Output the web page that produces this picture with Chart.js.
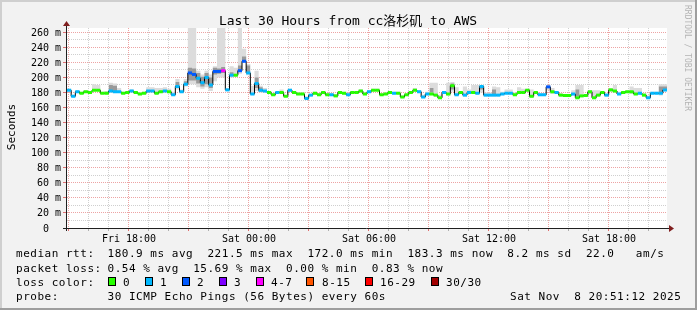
<!DOCTYPE html>
<html><head><meta charset="utf-8">
<script src="https://cdn.jsdelivr.net/npm/chart.js@4"></script>
<style>html,body{margin:0;padding:0;background:#f2f2f2}canvas{display:block}</style>
</head><body>
<canvas id="c" width="697" height="310"></canvas>
<script>
// time axis: hours relative to Fri 18:00; consolidated steps of 12.5 minutes
const startHour = -3.065;
const stepHours = 30 / 144;
const endHour = startHour + 30;

const median = [183,175,181,179,181,180,183,183,179,179,
 182,181,181,179,180,182,180,178,179,182,
 182,179,181,182,181,177,188,181,191,206,
 204,199,193,200,190,208,208,209,183.5,203,
 203,209,221.5,206,178,192,183,182,180,177,
 180,180,175,183,180,178,178,172,176.5,179,
 177,180,177,177,175.5,180,179,177,180,180,
 182,178,181,183,183,177,178,180,179,179,
 174,177,180,183,181,174,178,178,176.5,173,
 180,178,189,177,180,176.5,180,180,179,188,
 176.5,176.5,176.5,176.5,178,179,179,177,180,180,
 183,175,180,177,177,187.5,181,180,176.5,176,
 176,178,173,175.5,176,181,173,176.5,180,176.5,
 183.5,182,178,180,181,181,178,179,176.5,173,
 179,179,179,183.3];

const loss = [1,1,1,0,0,0,0,0,0,0,
 1,1,1,0,0,1,0,0,0,1,
 1,0,0,1,0,1,1,1,1,2,
 2,1,1,1,1,2,2,4,1,1,
 0,2,2,1,1,1,1,1,0,0,
 1,0,0,1,0,0,0,1,1,0,
 0,0,0,1,0,0,0,1,0,0,
 0,0,1,0,0,0,0,0,1,0,
 0,0,0,0,1,1,1,0,0,0,
 1,0,0,1,0,1,1,0,1,1,
 1,1,1,1,1,1,1,0,0,0,
 0,0,0,1,1,2,0,1,0,0,
 0,1,0,0,0,0,0,0,0,1,
 0,0,1,0,0,0,0,1,0,1,
 1,1,1,1];

const smokeHi = [185,177,183,181,183,182,191,190,181,182,
 193,192,186,181,182,184,182,180,181,187,
 187,186,186,187,185,181,198,184,198,265.7,
 265.7,209,204,209,204,215,265.7,265.7,186,215,
 213,265.7,238,218,189,209,189,186,182,179,
 182,184,177,185,182,180,180,175,178,181,
 179,182,179,179,178,182,181,179,182,182,
 184,180,183,185,185,179,180,182,181,181,
 176,179,182,186,183,177,181,193,193,177,
 182,193,194,187,182,188,184,190,190,190,
 180,180,188,187,181,184,184,180,187,185,
 185,184,182,179,179,190,186,182,179,178,
 178,183,190,190,178,183,183,183,182,179,
 186,190,181,182,183,188,186,186,179,176,
 181,181,191,191];

const smokeLo = [181,174,180,178,180,179,182,182,178,178,
 180,180,180,178,179,181,179,177,178,181,
 181,178,180,181,180,176,184,180,188,191,
 191,187,185,187,182,195,200,200,182,200,
 201,205,220,203,177,182,180,180,179,176,
 179,179,174,181,179,177,177,171,175,178,
 176,179,176,176,174,179,178,176,179,179,
 181,177,180,182,182,176,177,179,178,178,
 173,176,179,182,180,173,177,177,175,172,
 179,176,181,176,179,175,179,179,178,180,
 175,175,175,175,177,178,178,176,179,179,
 182,173,179,176,176,183,178,179,175,175,
 175,176,172,174,175,178,172,175,179,175,
 181,180,177,179,180,178,177,177,175,172,
 178,178,176,182];

const darkSteps = [10,11,26,28,29,30,31,32,33,34,35,36,37,39,41,42,43,45,46,87,92,99,102,122,142,143];
const darkHi    = [190,189,194,195,213,212,206,201,206,200,213,212,214,207,216,228,216,200,187,186,192,189,184,184,188,188];
const darkLo    = [183,182,186,190,196,196,192,188,191,186,204,205,206,203,208,222,206,186,181,180,184,184,178,175,180,182];

const xTickHours = [0,6,12,18,24];
const xTickLabels = ['Fri 18:00','Sat 00:00','Sat 06:00','Sat 12:00','Sat 18:00'];
const yTickValues = [0,20,40,60,80,100,120,140,160,180,200,220,240,260];
const yTickLabels = ['0','20 m','40 m','60 m','80 m','100 m','120 m','140 m','160 m','180 m','200 m','220 m','240 m','260 m'];

const lossLegendLabels = ['0','1','2','3','4-7','8-15','16-29','30/30'];
const lossLegendColors = ['#26ff00','#00b8ff','#0059ff','#7e00ff','#ff00ff','#ff5500','#ff0000','#a10000'];
const lossColorOf = l => l===0?'#26ff00':l===1?'#00b8ff':l===2?'#0059ff':l===3?'#7e00ff':l<=7?'#ff00ff':l<=15?'#ff5500':l<=29?'#ff0000':'#a10000';

const titleText = 'Last 30 Hours from cc洛杉矶 to AWS';
const legendRows = [
  ['median rtt:', '180.9 ms avg  221.5 ms max  172.0 ms min  183.3 ms now  8.2 ms sd  22.0   am/s'],
  ['packet loss:', '0.54 % avg  15.69 % max  0.00 % min  0.83 % now'],
  ['loss color:', ''],
  ['probe:', '30 ICMP Echo Pings (56 Bytes) every 60s']
];
const stampText = 'Sat Nov  8 20:51:12 2025';

// ---- build library data ----
const tAt = i => startHour + i * stepHours;
const stepData = arr => arr.map((v,i)=>({x:tAt(i), y:v})).concat([{x:tAt(arr.length), y:arr[arr.length-1]}]);
function sparseStep(steps, vals){
  const out=[];
  steps.forEach((s,k)=>{
    out.push({x:tAt(s), y:vals[k]});
    if(steps[k+1]!==s+1){ out.push({x:tAt(s+1), y:vals[k]}); out.push({x:tAt(s+1), y:null}); }
  });
  return out;
}
const barData=[];
median.forEach((v,i)=>{ barData.push({x:tAt(i),y:v}); barData.push({x:tAt(i+1),y:v}); barData.push({x:tAt(i+1),y:null}); });

const GRID='#cfcfcf', MGRID='#eda3a3';
const rrdPlugin = {
  id:'rrd',
  beforeDraw(chart){
    const ctx=chart.ctx, W=chart.width, H=chart.height, a=chart.chartArea;
    ctx.save();
    ctx.fillStyle='#f2f2f2'; ctx.fillRect(0,0,W,H);
    ctx.fillStyle='#cfcfcf'; ctx.fillRect(0,0,W,2); ctx.fillRect(0,0,2,H);
    ctx.fillStyle='#9e9e9e'; ctx.fillRect(0,H-2,W,2); ctx.fillRect(W-2,0,2,H);
    ctx.fillStyle='#ffffff'; ctx.fillRect(a.left,a.top,a.right-a.left,a.bottom-a.top);
    ctx.restore();
  },
  beforeDatasetsDraw(chart){
    const ctx=chart.ctx, xs=chart.scales.x, ys=chart.scales.y, a=chart.chartArea;
    ctx.save(); ctx.lineWidth=1; ctx.setLineDash([1,1]);
    for(let h=Math.ceil(xs.min); h<=xs.max; h++){
      const px=Math.floor(xs.getPixelForValue(h))+0.5;
      ctx.strokeStyle=(((h%3)+3)%3===0)?MGRID:GRID;
      ctx.beginPath(); ctx.moveTo(px,a.top); ctx.lineTo(px,a.bottom); ctx.stroke();
    }
    for(let v=10; v<=ys.max; v+=10){
      const py=Math.floor(ys.getPixelForValue(v))+0.5;
      ctx.strokeStyle=(v%20===0)?MGRID:GRID;
      ctx.beginPath(); ctx.moveTo(a.left,py); ctx.lineTo(a.right,py); ctx.stroke();
    }
    ctx.restore();
  },
  afterDraw(chart){
    const ctx=chart.ctx, xs=chart.scales.x, ys=chart.scales.y, a=chart.chartArea;
    ctx.save();
    ctx.setLineDash([]); ctx.lineWidth=1;
    // x ticks
    for(let h=Math.ceil(xs.min); h<=xs.max; h++){
      const px=Math.floor(xs.getPixelForValue(h))+0.5;
      ctx.strokeStyle=(((h%3)+3)%3===0)?'#e07070':'#b0b0b0';
      ctx.beginPath(); ctx.moveTo(px,a.bottom); ctx.lineTo(px,a.bottom+3); ctx.stroke();
    }
    // y ticks
    yTickValues.forEach(v=>{
      const py=Math.floor(ys.getPixelForValue(v))+0.5;
      ctx.strokeStyle=v===0?'#1f1f1f':'#e07070';
      ctx.beginPath(); ctx.moveTo(a.left-4,py); ctx.lineTo(a.left-1,py); ctx.stroke();
    });
    // axes
    ctx.strokeStyle='#1f1f1f';
    ctx.beginPath(); ctx.moveTo(a.left-4,a.bottom+0.5); ctx.lineTo(a.right+3,a.bottom+0.5); ctx.stroke();
    ctx.beginPath(); ctx.moveTo(a.left-0.5,a.bottom+3); ctx.lineTo(a.left-0.5,a.top-3); ctx.stroke();
    ctx.fillStyle='#801f1f';
    ctx.beginPath(); ctx.moveTo(a.right+2,a.bottom-3); ctx.lineTo(a.right+7,a.bottom+0.5); ctx.lineTo(a.right+2,a.bottom+4); ctx.closePath(); ctx.fill();
    ctx.beginPath(); ctx.moveTo(a.left-4,a.top-2); ctx.lineTo(a.left-0.5,a.top-7); ctx.lineTo(a.left+3,a.top-2); ctx.closePath(); ctx.fill();

    ctx.fillStyle='#000';
    // y labels
    ctx.font='10px "DejaVu Sans Mono", monospace';
    ctx.textAlign='right'; ctx.textBaseline='middle';
    yTickValues.forEach((v,i)=>{
      const lab=yTickLabels[i].indexOf(' ')<0 ? yTickLabels[i]+'  ' : yTickLabels[i];
      ctx.fillText(lab, a.left-6, Math.floor(ys.getPixelForValue(v))+1);
    });
    // x labels
    ctx.textAlign='center';
    xTickHours.forEach((h,i)=>{ ctx.fillText(xTickLabels[i], Math.floor(xs.getPixelForValue(h))+1, 239); });
    // title
    ctx.font='13px "DejaVu Sans Mono", "Noto Sans CJK SC", monospace';
    ctx.textBaseline='alphabetic';
    ctx.fillText(titleText, 348, 25);
    // y axis title
    ctx.font='11px "DejaVu Sans Mono", monospace';
    ctx.save(); ctx.translate(15,127); ctx.rotate(-Math.PI/2); ctx.textAlign='center'; ctx.fillText('Seconds',0,0); ctx.restore();
    // watermark
    ctx.save(); ctx.fillStyle='#b4b4b4'; ctx.font='8px "DejaVu Sans Mono", monospace';
    ctx.translate(685,5); ctx.rotate(Math.PI/2); ctx.textAlign='left'; ctx.fillText('RRDTOOL / TOBI OETIKER',0,0); ctx.restore();
    // legend
    ctx.textAlign='left';
    const pitch=7.14;
    const mono=(s,x,y)=>{ for(let k=0;k<s.length;k++) ctx.fillText(s[k], x+k*pitch, y); };
    const base=[257,272,286,300];
    legendRows.forEach((r,i)=>{ mono(r[0],16,base[i]); if(r[1]) mono(r[1],107.5,base[i]); });
    const boxX=[108,145,182,219,256,306,365,431];
    const labX=[123,160,197,234,271,322,380,446];
    lossLegendLabels.forEach((l,i)=>{
      ctx.fillStyle=lossLegendColors[i]; ctx.fillRect(boxX[i],277,8,9);
      ctx.strokeStyle='#000'; ctx.strokeRect(boxX[i]+0.5,277.5,7,8);
      ctx.fillStyle='#000'; mono(l,labX[i],286);
    });
    mono(stampText,510,300);
    ctx.restore();
  }
};

new Chart(document.getElementById('c'), {
  type:'line',
  data:{ datasets:[
    {data:stepData(smokeHi), stepped:true, borderWidth:0, pointRadius:0, fill:'+1', backgroundColor:'#dcdcdc', order:4},
    {data:stepData(smokeLo), stepped:true, borderWidth:0, pointRadius:0, fill:false, order:4},
    {data:sparseStep(darkSteps,darkHi), stepped:true, borderWidth:0, pointRadius:0, fill:'+1', backgroundColor:'#9a9a9a', spanGaps:false, order:3},
    {data:sparseStep(darkSteps,darkLo), stepped:true, borderWidth:0, pointRadius:0, fill:false, spanGaps:false, order:3},
    {data:stepData(median), stepped:true, borderWidth:1, borderColor:'#000', pointRadius:0, fill:false, order:1},
    {data:barData, borderWidth:3, borderCapStyle:'butt', pointRadius:0, fill:false, spanGaps:false, order:0,
     borderColor:'#26ff00',
     segment:{ borderColor: c => lossColorOf(loss[Math.floor(c.p0DataIndex/3)]) }}
  ]},
  options:{
    responsive:false, animation:false, devicePixelRatio:1,
    layout:{padding:{left:67,right:30,top:28,bottom:82}},
    plugins:{legend:{display:false}, tooltip:{enabled:false}},
    scales:{
      x:{type:'linear', min:startHour, max:endHour, display:false},
      y:{min:0, max:265.7, display:false}
    },
    elements:{line:{tension:0}}
  },
  plugins:[rrdPlugin]
});
</script>
</body></html>
